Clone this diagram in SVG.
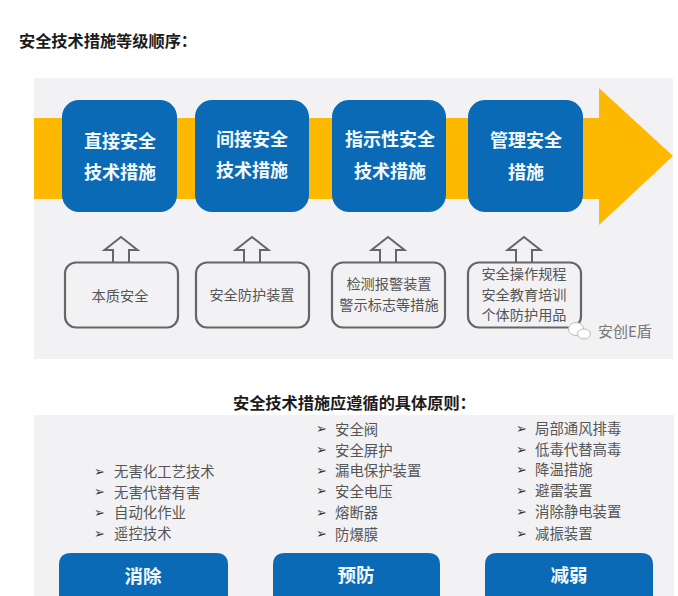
<svg xmlns="http://www.w3.org/2000/svg" width="678" height="596" viewBox="0 0 678 596">
<style>
text{font-family:"Noto Sans CJK SC","Liberation Sans",sans-serif;dominant-baseline:central}
.h{font-size:16.200px;font-weight:700;fill:#1c1c1c}
.panel{fill:#f2f2f5}
.amber{fill:#fdb900}
.blue{fill:#0b6ab6}
.bt{font-size:18px;font-weight:700;fill:#f2f8fc;text-anchor:middle}
.box{fill:none;stroke:#666;stroke-width:2.2}
.lt{font-size:14.2px;fill:#555;text-anchor:middle}
.li{font-size:14.4px;fill:#555}
.bu{font-size:13px;fill:#333;font-family:"DejaVu Sans",sans-serif}
.up{fill:none;stroke:#666;stroke-width:2;stroke-linejoin:miter}
.ch{fill:none;stroke:#555;stroke-width:1.5}
.ch2{fill:none;stroke:#bbb;stroke-width:1.5}
</style>
<defs>
<path id="up" class="up" d="M-8 25V13H-16.500L0 0L16.500 13H8V25"/>
<g id="chev"><path class="ch" d="M0 0L6 6.500L0 13M5 0L11 6.500L5 13"/><path class="ch2" d="M10 0L16 6.500L10 13"/></g>
</defs>
<rect width="678" height="596" fill="#fff"/>
<text class="h" x="19" y="40">安全技术措施等级顺序：</text>
<rect class="panel" x="34" y="78" width="639" height="281"/>
<path id="main-arrow" class="amber" d="M34 118H599V88L673 156L599 225V199H34Z"/>
<g id="connectors">
<use href="#up" x="121" y="237"/>
<use href="#up" x="252" y="237"/>
<use href="#up" x="388" y="237"/>
<use href="#up" x="524" y="237"/>
<use href="#chev" x="243" y="568"/>
<use href="#chev" x="456" y="568"/>
</g>
<g id="n1"><rect class="blue" x="62" y="100" width="115" height="112" rx="17"/><text class="bt" x="120" y="140">直接安全</text><text class="bt" x="120" y="171">技术措施</text></g>
<g id="n2"><rect class="blue" x="195" y="100" width="114" height="112" rx="17"/><text class="bt" x="252" y="138">间接安全</text><text class="bt" x="252" y="169">技术措施</text></g>
<g id="n3"><rect class="blue" x="332" y="100" width="114" height="112" rx="17"/><text class="bt" x="390" y="138">指示性安全</text><text class="bt" x="390" y="170">技术措施</text></g>
<g id="n4"><rect class="blue" x="468" y="100" width="115" height="112" rx="17"/><text class="bt" x="526" y="139">管理安全</text><text class="bt" x="526" y="171">措施</text></g>
<g id="b1"><rect class="box" x="65" y="262.500" width="113" height="65" rx="11"/><text class="lt" x="120" y="295">本质安全</text></g>
<g id="b2"><rect class="box" x="196" y="262.500" width="113" height="65" rx="11"/><text class="lt" x="252" y="294">安全防护装置</text></g>
<g id="b3"><rect class="box" x="332" y="262.500" width="113" height="65" rx="11"/><text class="lt" x="389" y="283">检测报警装置</text><text class="lt" x="389" y="304">警示标志等措施</text></g>
<g id="b4"><rect class="box" x="468" y="262.500" width="113" height="65" rx="11"/><text class="lt" x="524" y="273">安全操作规程</text><text class="lt" x="524" y="294">安全教育培训</text><text class="lt" x="524" y="314">个体防护用品</text></g>
<g id="watermark"><ellipse cx="576" cy="329" rx="7.500" ry="6.500" fill="#fff" stroke="#bbb"/><ellipse cx="584" cy="334" rx="6.500" ry="5" fill="#fff" stroke="#bbb"/><text x="598" y="330" font-size="15" fill="#777">安创E盾</text></g>
<text class="h" x="233" y="402">安全技术措施应遵循的具体原则：</text>
<rect class="panel" x="34" y="415" width="640" height="181"/>
<g id="c1">
<text class="bu" x="94" y="471">➢</text><text class="li" x="114" y="470">无害化工艺技术</text>
<text class="bu" x="94" y="491">➢</text><text class="li" x="114" y="491">无害代替有害</text>
<text class="bu" x="94" y="512">➢</text><text class="li" x="114" y="511">自动化作业</text>
<text class="bu" x="94" y="533">➢</text><text class="li" x="114" y="532">遥控技术</text>
<path class="blue" d="M59 596V565Q59 553 71 553H216Q228 553 228 565V596Z"/>
<text class="bt" x="143" y="575" style="font-size:18.500px">消除</text>
</g>
<g id="c2">
<text class="bu" x="316" y="428">➢</text><text class="li" x="335" y="428">安全阀</text>
<text class="bu" x="316" y="449">➢</text><text class="li" x="335" y="449">安全屏护</text>
<text class="bu" x="316" y="470">➢</text><text class="li" x="335" y="469">漏电保护装置</text>
<text class="bu" x="316" y="490">➢</text><text class="li" x="335" y="490">安全电压</text>
<text class="bu" x="316" y="512">➢</text><text class="li" x="335" y="511">熔断器</text>
<text class="bu" x="316" y="533">➢</text><text class="li" x="335" y="533">防爆膜</text>
<path class="blue" d="M273 596V565Q273 553 285 553H428Q440 553 440 565V596Z"/>
<text class="bt" x="356" y="574" style="font-size:18.500px">预防</text>
</g>
<g id="c3">
<text class="bu" x="516" y="428">➢</text><text class="li" x="535" y="427">局部通风排毒</text>
<text class="bu" x="516" y="449">➢</text><text class="li" x="535" y="448">低毒代替高毒</text>
<text class="bu" x="516" y="469">➢</text><text class="li" x="535" y="468">降温措施</text>
<text class="bu" x="516" y="490">➢</text><text class="li" x="535" y="489">避雷装置</text>
<text class="bu" x="516" y="511">➢</text><text class="li" x="535" y="510">消除静电装置</text>
<text class="bu" x="516" y="533">➢</text><text class="li" x="535" y="532">减振装置</text>
<path class="blue" d="M485 596V565Q485 553 497 553H641Q653 553 653 565V596Z"/>
<text class="bt" x="569" y="574" style="font-size:18.500px">减弱</text>
</g>
</svg>
